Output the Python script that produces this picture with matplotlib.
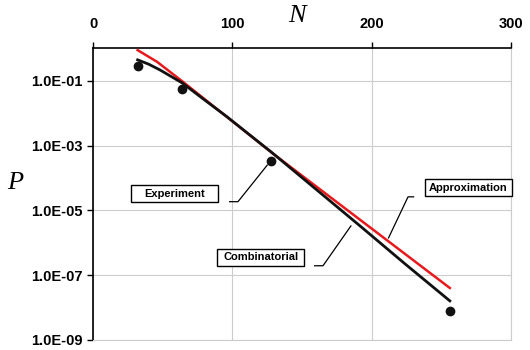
import matplotlib
matplotlib.use("Agg")
import matplotlib.pyplot as plt
from matplotlib.patches import Rectangle

# data
n_exp = [32, 64, 128, 256]
p_exp = [0.29, 0.056, 3.4e-4, 7.7e-9]

n_comb = [32, 40, 48, 64, 80, 96, 128, 160, 192, 224, 256]
p_comb = [0.45, 0.33, 0.22, 0.087, 0.026, 0.0079, 6.3e-4, 4.5e-5, 3.2e-6, 2.2e-7, 1.6e-8]

n_appr = [32, 46, 64, 128, 256]
p_appr = [0.9, 0.39, 0.098, 6.2e-4, 4.0e-8]

xticks = [0, 100, 200, 300]
yticks = [1e-9, 1e-7, 1e-5, 1e-3, 1e-1]
ytick_labels = ["1.0E-09", "1.0E-07", "1.0E-05", "1.0E-03", "1.0E-01"]

plt.rcParams['font.family'] = ['Liberation Sans', 'DejaVu Sans']

fig = plt.figure(figsize=(5.3, 3.5), dpi=100)
ax = fig.add_axes([0.1755, 0.029, 0.789, 0.834])

ax.plot(n_appr, p_appr, color='#e8191c', lw=1.8, zorder=3)
ax.plot(n_comb, p_comb, color='#111111', lw=2.0, zorder=3)
ax.plot(n_exp, p_exp, 'o', color='#111111', ms=6, zorder=4)

ax.set_yscale('log')
ax.set_xlim(0, 300)
ax.set_ylim(1e-9, 1.05)
ax.set_xticks(xticks)
ax.set_yticks(yticks)
ax.set_yticklabels(ytick_labels)
ax.yaxis.set_minor_locator(matplotlib.ticker.NullLocator())
ax.xaxis.tick_top()
ax.tick_params(axis='both', labelsize=10.5, width=1, length=4, color='black')
ax.tick_params(axis='x', pad=8)
for lbl in ax.get_xticklabels() + ax.get_yticklabels():
    lbl.set_fontweight('bold')

ax.grid(True, color='#cccccc', lw=0.8)
ax.set_axisbelow(True)
ax.spines['right'].set_color('#cccccc')
ax.spines['bottom'].set_color('#cccccc')
ax.spines['left'].set_linewidth(1.2)
ax.spines['top'].set_linewidth(1.2)

fig.text(0.56, 0.953, 'N', fontsize=19, family='Liberation Serif', style='italic',
         ha='center', va='center')
fig.text(0.028, 0.477, 'P', fontsize=19, family='Liberation Serif', style='italic',
         ha='center', va='center')

# label boxes (axes fraction, fixed size like the original)
bw, bh = 0.208, 0.058
labels = [('Experiment', 0.194, 0.500),
          ('Approximation', 0.898, 0.521),
          ('Combinatorial', 0.401, 0.283)]
for txt, cx, cy in labels:
    ax.add_patch(Rectangle((cx - bw / 2, cy - bh / 2), bw, bh, transform=ax.transAxes,
                           fc='white', ec='black', lw=1, zorder=5, clip_on=False))
    ax.text(cx, cy, txt, transform=ax.transAxes, fontsize=8, fontweight='bold',
            ha='center', va='center', zorder=6)

# leader lines
ax.plot([98, 104, 125], [10**-4.73, 10**-4.73, 10**-3.6], color='black', lw=0.9)
ax.plot([230, 226, 212], [10**-4.58, 10**-4.58, 10**-5.85], color='black', lw=0.9)
ax.plot([159, 165, 185], [10**-6.71, 10**-6.71, 10**-5.48], color='black', lw=0.9)

fig.savefig('out.png', dpi=100)
